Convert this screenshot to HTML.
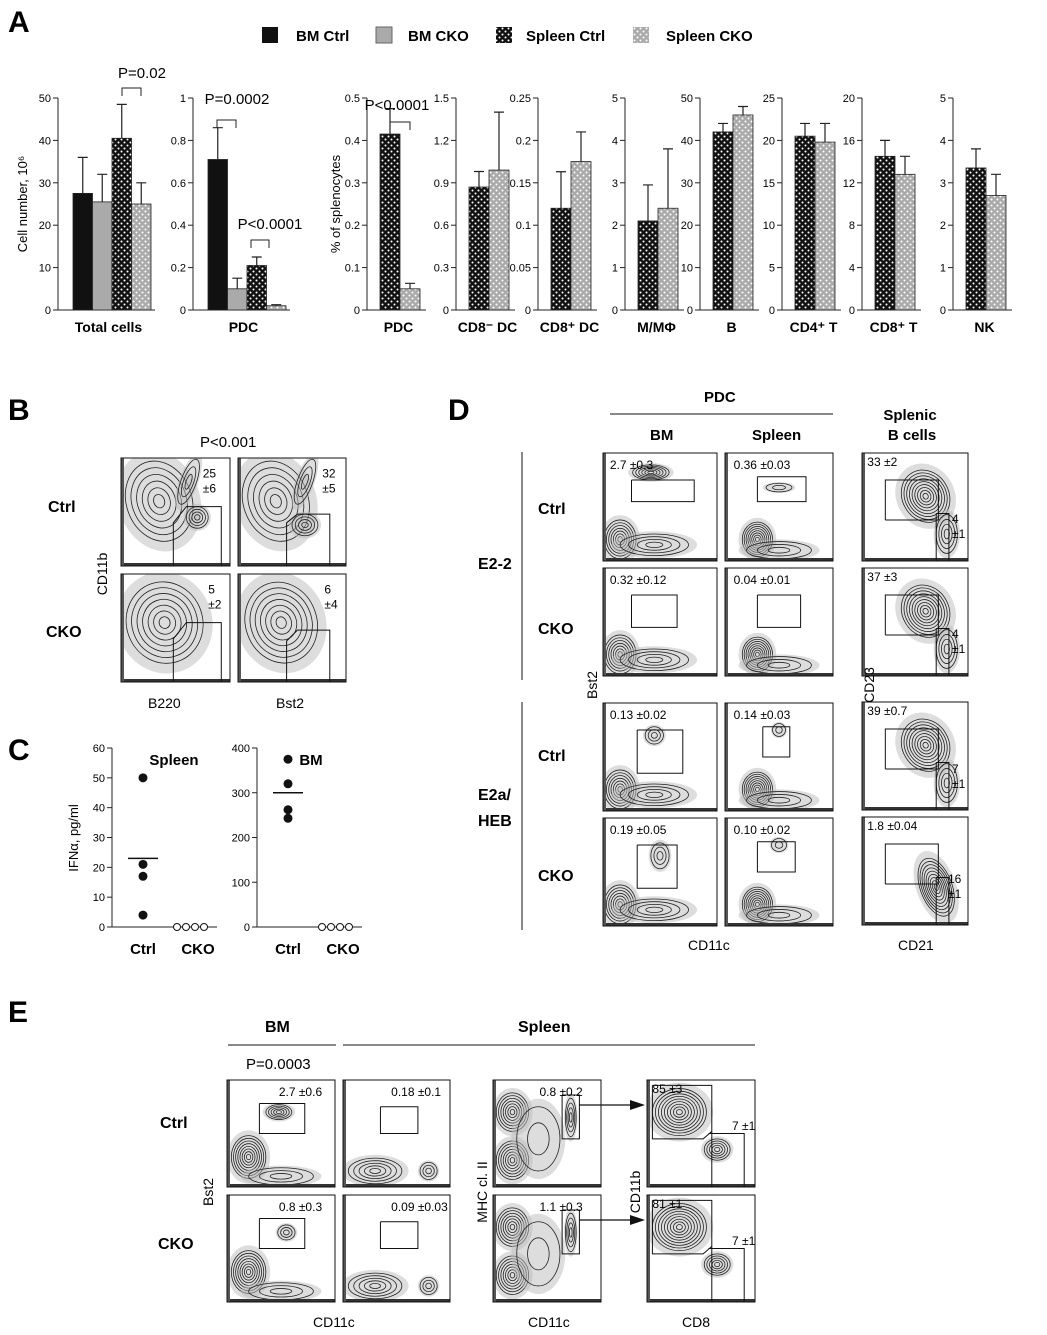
<!DOCTYPE html>
<html><head><meta charset="utf-8"><style>
body{margin:0;background:#fff}
svg{display:block;font-family:"Liberation Sans",Arial,sans-serif}
</style></head><body>
<svg id="fig" width="1047" height="1335" viewBox="0 0 1047 1335">
<defs>
<pattern id="pDark" width="6" height="6" patternUnits="userSpaceOnUse"><rect width="6" height="6" fill="#111"/><circle cx="1.5" cy="1.5" r="1" fill="#fff"/><circle cx="4.5" cy="4.5" r="1" fill="#fff"/></pattern>
<pattern id="pLight" width="6" height="6" patternUnits="userSpaceOnUse"><rect width="6" height="6" fill="#aaa"/><circle cx="1.5" cy="1.5" r="1" fill="#fff"/><circle cx="4.5" cy="4.5" r="1" fill="#fff"/></pattern>
</defs>
<g id="static" font-weight="bold" font-size="16">
<text x="8" y="32" font-size="30">A</text>
<text x="8" y="420" font-size="30">B</text>
<text x="8" y="760" font-size="30">C</text>
<text x="448" y="420" font-size="30">D</text>
<text x="8" y="1022" font-size="30">E</text>
</g>
<g id="legend" font-size="15" font-weight="bold">
<rect x="262" y="27" width="16" height="16" fill="#111"/><text x="296" y="41">BM Ctrl</text>
<rect x="376" y="27" width="16" height="16" fill="#aaa" stroke="#666"/><text x="408" y="41">BM CKO</text>
<rect x="496" y="27" width="16" height="16" fill="url(#pDark)"/><text x="526" y="41">Spleen Ctrl</text>
<rect x="633" y="27" width="16" height="16" fill="url(#pLight)"/><text x="666" y="41">Spleen CKO</text>
</g>
<g id="charts"></g>
<g id="plots"></g>
<g id="labels" font-size="14"></g>
</svg>
<script>
// ---- Panel A data ----
const chartNames = ["Total cells","PDC","PDC","CD8⁻ DC","CD8⁺ DC","M/MΦ","B","CD4⁺ T","CD8⁺ T","NK"];
const chartMax = [50,1,0.5,1.5,0.25,5,50,25,20,5];
const chartTicks = [[0,10,20,30,40,50],[0,0.2,0.4,0.6,0.8,1],[0,0.1,0.2,0.3,0.4,0.5],[0,0.3,0.6,0.9,1.2,1.5],[0,0.05,0.1,0.15,0.2,0.25],[0,1,2,3,4,5],[0,10,20,30,40,50],[0,5,10,15,20,25],[0,4,8,12,16,20],[0,1,2,3,4,5]];
const bmCtrl = [27.5,0.71];
const bmCko = [25.5,0.1];
const bmCtrlErr = [36,0.86];
const bmCkoErr = [32,0.15];
const spCtrl = [40.5,0.21,0.415,0.87,0.12,2.1,42,20.5,14.5,3.35];
const spCko = [25,0.02,0.05,0.99,0.175,2.4,46,19.8,12.8,2.7];
const spCtrlErr = [48.5,0.25,0.475,0.98,0.163,2.95,44,22,16,3.8];
const spCkoErr = [30,0.025,0.063,1.4,0.21,3.8,48,22,14.5,3.2];
// ---- Panel C data ----
const spleenIfnCtrl = [50,21,17,4];
const spleenIfnCko = [0,0,0,0];
const bmIfnCtrl = [375,320,262,243];
const bmIfnCko = [0,0,0,0];
const spleenTicks = [0,10,20,30,40,50,60];
const bmTicks = [0,100,200,300,400];

const NS="http://www.w3.org/2000/svg";
function mk(parent,tag,attrs){const e=document.createElementNS(NS,tag);for(const k in attrs)e.setAttribute(k,attrs[k]);parent.appendChild(e);return e;}
const charts=document.getElementById('charts');
const axisX=[58,193,367,456,538,625,700,782,862,953];
const yTop=98,yBot=310;
function v2y(v,max){return yBot-(v/max)*(yBot-yTop);}
function drawBar(g,x,w,v,err,max,fill,name){
  const y=v2y(v,max);
  const b=mk(g,'rect',{x:x,y:y,width:w,height:yBot-y,fill:fill,stroke:'#222','stroke-width':0.8});
  
  
  const ye=v2y(err,max);
  const e=mk(g,'path',{d:`M${x+w/2},${y}V${ye}M${x+w/2-5},${ye}H${x+w/2+5}`,stroke:'#222','stroke-width':1.2,fill:'none'});
  
  
}
for(let i=0;i<10;i++){
  const g=mk(charts,'g',{});
  
  
  const ax=axisX[i],max=chartMax[i];
  const nb = i<2?4:2;
  const bw = i<2?19.5:20;
  const right = ax+13+nb*bw+6;
  mk(g,'path',{d:`M${ax},${yTop}V${yBot}H${right}`,stroke:'#222','stroke-width':1,fill:'none'});
  chartTicks[i].forEach(t=>{const y=v2y(t,max);mk(g,'line',{x1:ax-5,x2:ax,y1:y,y2:y,stroke:'#222'});
    const tx=mk(g,'text',{x:ax-7,y:y+4,'text-anchor':'end','font-size':11});tx.textContent=String(t);});
  let x=ax+(i<2?15:13);
  if(i<2){
    drawBar(g,x,bw,bmCtrl[i],bmCtrlErr[i],max,'#111','bar-bm-ctrl');x+=bw;
    drawBar(g,x,bw,bmCko[i],bmCkoErr[i],max,'#aaa','bar-bm-cko');x+=bw;
  }
  drawBar(g,x,bw,spCtrl[i],spCtrlErr[i],max,'url(#pDark)','bar-spleen-ctrl');x+=bw;
  drawBar(g,x,bw,spCko[i],spCkoErr[i],max,'url(#pLight)','bar-spleen-cko');
  const lab=mk(g,'text',{x:(ax+right)/2+2,y:332,'text-anchor':'middle','font-size':14,'font-weight':'bold'});
  lab.textContent=chartNames[i];
  
  
}
function bracket(x1,x2,y,text,tx,ty){
  mk(charts,'path',{d:`M${x1},${y+8}V${y}H${x2}V${y+8}`,stroke:'#222',fill:'none'});
  const t=mk(charts,'text',{x:tx,y:ty,'font-size':15,'text-anchor':'middle'});t.textContent=text;
  
  
}
bracket(122,141,88,'P=0.02',142,78);
bracket(217,236,120,'P=0.0002',237,104);
bracket(251,269,240,'P<0.0001',270,229);
bracket(390,410,122,'P<0.0001',397,110);
let yl=mk(charts,'text',{x:0,y:0,'font-size':13,transform:'translate(27,204) rotate(-90)','text-anchor':'middle'});yl.textContent='Cell number, 10⁶';


yl=mk(charts,'text',{x:0,y:0,'font-size':13,transform:'translate(340,204) rotate(-90)','text-anchor':'middle'});yl.textContent='% of splenocytes';



// ---- Panel C ----
function dotChart(ax,ticks,ctrl,cko,title,tx){
  const g=mk(charts,'g',{});
  
  
  const top=748,bot=927,max=ticks[ticks.length-1];
  const y=v=>bot-v/max*(bot-top);
  mk(g,'path',{d:`M${ax},${top}V${bot}H${ax+105}`,stroke:'#222',fill:'none'});
  ticks.forEach(t=>{mk(g,'line',{x1:ax-5,x2:ax,y1:y(t),y2:y(t),stroke:'#222'});const s=mk(g,'text',{x:ax-7,y:y(t)+4,'text-anchor':'end','font-size':11});s.textContent=t;});
  const mean=ctrl.reduce((a,b)=>a+b,0)/ctrl.length;
  mk(g,'line',{x1:ax+16,x2:ax+46,y1:y(mean),y2:y(mean),stroke:'#111','stroke-width':1.5});
  ctrl.forEach(v=>{const c=mk(g,'circle',{cx:ax+31,cy:y(v),r:4.5,fill:'#111'});});
  cko.forEach((v,k)=>{const c=mk(g,'circle',{cx:ax+65+k*9,cy:y(v),r:3.5,fill:'#fff',stroke:'#111'});});
  let t=mk(g,'text',{x:tx,y:765,'font-size':15,'font-weight':'bold','text-anchor':'middle'});t.textContent=title;
  t=mk(g,'text',{x:ax+31,y:954,'font-size':15,'font-weight':'bold','text-anchor':'middle'});t.textContent='Ctrl';
  t=mk(g,'text',{x:ax+86,y:954,'font-size':15,'font-weight':'bold','text-anchor':'middle'});t.textContent='CKO';
}
dotChart(112,spleenTicks,spleenIfnCtrl,spleenIfnCko,'Spleen',174);
dotChart(257,bmTicks,bmIfnCtrl,bmIfnCko,'BM',311);
yl=mk(charts,'text',{x:0,y:0,'font-size':13,transform:'translate(78,838) rotate(-90)','text-anchor':'middle'});yl.textContent='IFNα, pg/ml';



// ---- Flow plots ----
const plots=document.getElementById('plots');
function contour(g,cx,cy,rx,ry,n,rot){
  mk(g,'ellipse',{cx:cx,cy:cy,rx:rx*1.25,ry:ry*1.25,fill:'#bbb',opacity:0.5,transform:`rotate(${rot||0} ${cx} ${cy})`});
  for(let k=0;k<n;k++){const f=1-k/n;mk(g,'ellipse',{cx:cx,cy:cy,rx:rx*f,ry:ry*f,fill:'none',stroke:'#222','stroke-width':0.8,transform:`rotate(${rot||0} ${cx} ${cy})`});}
}
function plot(x,y,w,h,clusters,gates,label,lx,ly,name){
  const g=mk(plots,'g',{});
  
  
  mk(g,'rect',{x:x,y:y,width:w,height:h,fill:'#fff'});
  const cp='c'+Math.round(x)+'_'+Math.round(y);
  const cl=mk(g,'clipPath',{id:cp});mk(cl,'rect',{x:x,y:y,width:w,height:h});
  const inner=mk(g,'g',{'clip-path':`url(#${cp})`});
  clusters.forEach(c=>contour(inner,x+c[0]*w,y+c[1]*h,c[2]*w,c[3]*h,c[4],c[5]));
  mk(inner,'rect',{x:x,y:y+h-3,width:w,height:3,fill:'#333'});
  mk(inner,'rect',{x:x,y:y,width:3,height:h,fill:'#555'});
  gates.forEach(gt=>mk(g,'path',{d:gt.map((p,i)=>(i?'L':'M')+(x+p[0]*w)+','+(y+p[1]*h)).join(''),fill:'none',stroke:'#111','stroke-width':1}));
  mk(g,'rect',{x:x,y:y,width:w,height:h,fill:'none',stroke:'#111','stroke-width':1});
  if(label){label.split('\n').forEach((l,i)=>{const t=mk(g,'text',{x:x+lx*w,y:y+ly*h+i*15,'font-size':12});t.textContent=l;});}
}
const rectGate=(a,b,c,d)=>[[a,b],[c,b],[c,d],[a,d],[a,b]];
// Panel B
const bBig=[[0.35,0.4,0.3,0.38,6,-20],[0.62,0.22,0.07,0.22,3,20]];
const bGate=[[0.48,1],[0.48,0.6],[0.6,0.45],[0.92,0.45],[0.92,1]];
plot(121,458,109,108,bBig.concat([[0.7,0.55,0.1,0.1,4]]),[bGate],'25\n±6',0.75,0.18,'flow-b-ctrl-b220');
plot(238,458,108,108,bBig.concat([[0.62,0.62,0.12,0.1,4]]),[[[0.45,1],[0.45,0.6],[0.55,0.52],[0.85,0.52],[0.85,1]]],'32\n±5',0.78,0.18,'flow-b-ctrl-bst2');
plot(121,574,109,108,[[0.4,0.45,0.35,0.38,7,-20]],[bGate],'5\n±2',0.8,0.18,'flow-b-cko-b220');
plot(238,574,108,108,[[0.4,0.45,0.33,0.38,7,-20]],[[[0.45,1],[0.45,0.62],[0.55,0.52],[0.85,0.52],[0.85,1]]],'6\n±4',0.8,0.18,'flow-b-cko-bst2');
// Panel D
const low=[[0.15,0.8,0.14,0.18,7],[0.45,0.85,0.3,0.1,4]];
const dRows=[453,568,703,818];
const dBM=[['2.7 ±0.3',[[0.42,0.18,0.16,0.07,6]],[0.25,0.25,0.8,0.45]],['0.32 ±0.12',[],[0.25,0.25,0.65,0.55]],['0.13 ±0.02',[[0.45,0.3,0.08,0.08,3]],[0.3,0.25,0.7,0.65]],['0.19 ±0.05',[[0.5,0.35,0.08,0.12,3]],[0.3,0.25,0.65,0.65]]];
const dSp=[['0.36 ±0.03',[[0.5,0.32,0.12,0.04,2]],[0.3,0.22,0.75,0.45]],['0.04 ±0.01',[],[0.3,0.25,0.7,0.55]],['0.14 ±0.03',[[0.5,0.25,0.06,0.06,2]],[0.35,0.22,0.6,0.5]],['0.10 ±0.02',[[0.5,0.25,0.07,0.06,2]],[0.3,0.22,0.65,0.5]]];
const dB=[['33 ±2','4\n±1'],['37 ±3','4\n±1'],['39 ±0.7','7\n±1'],['1.8 ±0.04','16\n±1']];
for(let r=0;r<4;r++){
  const yy=dRows[r];
  plot(603,yy,114,108,low.concat(dBM[r][1]),[rectGate(...dBM[r][2])],dBM[r][0],0.06,0.15,'flow-d-bm-'+r);
  plot(725,yy,108,108,[[0.3,0.8,0.14,0.16,8],[0.5,0.9,0.3,0.08,3]].concat(dSp[r][1]),[rectGate(...dSp[r][2])],dSp[r][0],0.08,0.15,'flow-d-spleen-'+r);
  const bc=r<3?[[0.6,0.4,0.22,0.25,9,-30],[0.8,0.75,0.1,0.18,4]]:[[0.7,0.65,0.15,0.28,9,-20]];
  plot(862,yy+(r>1?-1:0),106,108,bc,[[[0.22,0.62],[0.22,0.25],[0.72,0.25],[0.72,0.62],[0.22,0.62]],[[0.7,0.56],[0.82,0.56],[0.82,1]],[[0.7,0.56],[0.7,1]]],dB[r][0],0.05,0.12,'flow-d-bcell-'+r);
  const t=mk(plots,'text',{x:955,y:yy+(r==3?65:70),'font-size':12});
  dB[r][1].split('\n').forEach((l,i)=>{const s=mk(t,'tspan',{x:r==3?948:952,dy:i?15:0});s.textContent=l;});
}
// Panel E
const eRows=[1080,1195];
const eBM=[['2.7 ±0.6',[[0.48,0.3,0.12,0.07,5]]],['0.8 ±0.3',[[0.55,0.35,0.08,0.07,3]]]];
const eSp=[['0.18 ±0.1'],['0.09 ±0.03']];
const eMHC=[['0.8 ±0.2'],['1.1 ±0.3']];
const e8=[['85  ±3','7 ±1'],['81  ±1','7 ±1']];
for(let r=0;r<2;r++){
  const yy=eRows[r];
  plot(227,yy,108,107,[[0.2,0.72,0.16,0.2,8],[0.5,0.9,0.3,0.08,3]].concat(eBM[r][1]),[rectGate(0.3,0.22,0.72,0.5)],eBM[r][0],0.48,0.15,'flow-e-bm-'+r);
  plot(343,yy,107,107,[[0.3,0.85,0.25,0.12,5],[0.8,0.85,0.08,0.08,3]],[rectGate(0.35,0.25,0.7,0.5)],eSp[r][0],0.45,0.15,'flow-e-spleen-'+r);
  plot(493,yy,108,107,[[0.18,0.3,0.15,0.18,7],[0.18,0.75,0.15,0.18,7],[0.42,0.55,0.2,0.3,2],[0.72,0.35,0.05,0.18,4]],[rectGate(0.64,0.14,0.8,0.55)],eMHC[r][0],0.43,0.15,'flow-e-mhc-'+r);
  plot(647,yy,108,107,[[0.3,0.3,0.25,0.22,9],[0.65,0.65,0.12,0.1,5]],[[[0.05,0.05],[0.6,0.05],[0.6,0.48],[0.52,0.55],[0.05,0.55],[0.05,0.05]],[[0.57,0.5],[0.9,0.5],[0.9,1]],[[0.6,0.48],[0.6,1]]],e8[r][0],0.05,0.12,'flow-e-cd8-'+r);
  const t=mk(plots,'text',{x:732,y:yy+50,'font-size':12});t.textContent=e8[r][1];
  mk(plots,'path',{d:`M${493+0.8*108},${yy+25}H${640}`,stroke:'#111','stroke-width':1.2});
  mk(plots,'path',{d:`M${630},${yy+20}L${645},${yy+25}L${630},${yy+30}Z`,fill:'#111'});
}

// ---- Labels ----
const L=document.getElementById('labels');
function lab(x,y,s,opt){const t=mk(L,'text',Object.assign({x:x,y:y},opt||{}));t.textContent=s;return t;}
const B={'font-weight':'bold','font-size':16};
const R=(x,y,s)=>lab(0,0,s,{transform:`translate(${x},${y}) rotate(-90)`,'text-anchor':'middle','font-size':14});
lab(200,447,'P<0.001',{'font-size':15});
lab(48,512,'Ctrl',B);lab(46,637,'CKO',B);
R(107,574,'CD11b');lab(148,708,'B220');lab(276,708,'Bst2');
lab(704,402,'PDC',{'font-weight':'bold','font-size':15});
mk(L,'line',{x1:610,x2:833,y1:414,y2:414,stroke:'#111'});
lab(650,440,'BM',{'font-weight':'bold','font-size':15});lab(752,440,'Spleen',{'font-weight':'bold','font-size':15});
lab(910,420,'Splenic',{'font-weight':'bold','font-size':15,'text-anchor':'middle'});lab(912,440,'B cells',{'font-weight':'bold','font-size':15,'text-anchor':'middle'});
mk(L,'line',{x1:522,x2:522,y1:452,y2:680,stroke:'#111'});
mk(L,'line',{x1:522,x2:522,y1:702,y2:930,stroke:'#111'});
lab(538,514,'Ctrl',B);lab(538,634,'CKO',B);lab(538,761,'Ctrl',B);lab(538,881,'CKO',B);
lab(478,569,'E2-2',B);lab(478,800,'E2a/',B);lab(478,826,'HEB',B);
R(597,685,'Bst2');R(874,685,'CD23');
lab(688,950,'CD11c');lab(898,950,'CD21');
lab(265,1032,'BM',{'font-weight':'bold','font-size':16});lab(518,1032,'Spleen',{'font-weight':'bold','font-size':16});
mk(L,'line',{x1:228,x2:336,y1:1045,y2:1045,stroke:'#111'});
mk(L,'line',{x1:343,x2:755,y1:1045,y2:1045,stroke:'#111'});
lab(246,1069,'P=0.0003',{'font-size':15});
lab(160,1128,'Ctrl',B);lab(158,1249,'CKO',B);
R(213,1192,'Bst2');R(487,1192,'MHC cl. II');R(640,1192,'CD11b');
lab(313,1327,'CD11c');lab(528,1327,'CD11c');lab(682,1327,'CD8');
</script>
</body></html>
